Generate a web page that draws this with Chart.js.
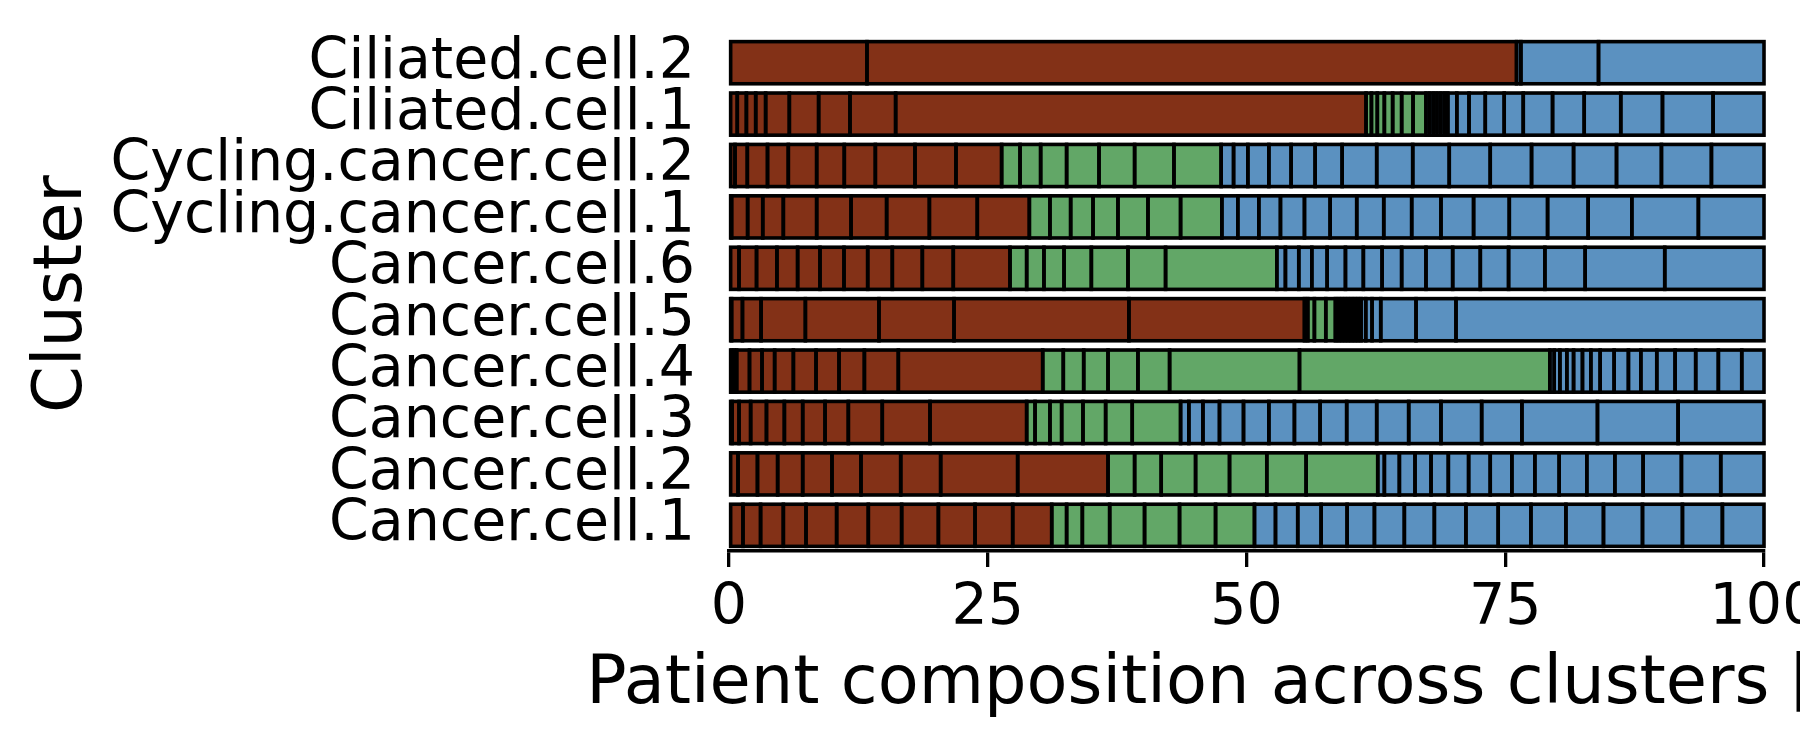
<!DOCTYPE html>
<html>
<head>
<meta charset="utf-8">
<script src="https://cdn.jsdelivr.net/npm/chart.js@4.4.1/dist/chart.umd.min.js"></script>
<style>
  html, body { margin: 0; padding: 0; background: #ffffff; }
  #wrap { width: 1800px; height: 750px; position: relative; }
</style>
</head>
<body>
<div id="wrap"><canvas id="c" width="1800" height="750"></canvas></div>
<script>
// ---- data ----
const clusters = [
  'Ciliated.cell.2', 'Ciliated.cell.1', 'Cycling.cancer.cell.2', 'Cycling.cancer.cell.1',
  'Cancer.cell.6', 'Cancer.cell.5', 'Cancer.cell.4', 'Cancer.cell.3', 'Cancer.cell.2', 'Cancer.cell.1'
];

// right edge (cumulative %) of each patient segment, per cluster, brown patient group
const brownEdges = [
  [13.33, 76.09],
  [0.80, 1.68, 2.58, 3.54, 5.83, 8.66, 11.69, 16.10, 61.55],
  [0.58, 1.77, 3.72, 5.73, 8.47, 11.14, 14.14, 17.97, 21.93, 26.34],
  [0.25, 1.80, 3.26, 5.25, 8.47, 11.79, 15.23, 19.36, 23.99, 29.02],
  [0.97, 2.66, 4.63, 6.63, 8.79, 11.11, 13.40, 15.78, 18.68, 21.67, 27.15],
  [0.25, 1.30, 3.10, 7.38, 14.49, 21.74, 38.64, 55.60],
  [0.25, 0.50, 0.74, 1.98, 3.19, 4.41, 6.22, 8.41, 10.63, 13.08, 16.36, 30.31],
  [0.30, 0.97, 2.09, 3.62, 5.35, 7.12, 9.28, 11.53, 14.81, 19.42, 28.76],
  [0.87, 2.75, 4.70, 7.12, 9.95, 12.75, 16.59, 20.45, 27.89, 36.62],
  [1.35, 3.05, 5.25, 7.44, 10.40, 13.46, 16.68, 20.23, 23.77, 27.41, 31.18]
];

// green patient group
const greenEdges = [
  [],
  [62.07, 62.64, 63.32, 64.12, 64.99, 66.09, 67.34],
  [28.12, 30.11, 32.62, 35.75, 39.19, 42.99, 47.55],
  [31.01, 33.01, 35.17, 37.58, 40.48, 43.63, 47.62],
  [28.76, 30.43, 32.37, 35.01, 38.55, 42.18, 52.93],
  [55.92, 56.56, 57.66, 58.59],
  [32.30, 34.27, 36.62, 39.51, 42.57, 55.12, 79.31],
  [29.57, 31.01, 32.14, 34.20, 36.39, 38.96, 43.63],
  [39.19, 41.76, 45.08, 48.36, 51.96, 55.76, 62.68],
  [32.62, 34.14, 36.78, 40.15, 43.53, 47.01, 50.77]
];

// blue patient group
const blueEdges = [
  [76.51, 84.01, 100],
  [67.70, 68.05, 68.40, 68.75, 69.10, 69.45, 70.32, 71.50, 73.07, 74.90, 76.74, 79.57, 82.63, 86.16, 90.19, 95.08, 100],
  [48.75, 50.13, 52.16, 54.31, 56.63, 59.24, 62.58, 66.06, 69.59, 73.55, 77.54, 81.60, 85.75, 90.09, 94.92, 100],
  [49.16, 51.19, 53.28, 55.60, 58.08, 60.65, 63.26, 65.96, 68.79, 71.94, 75.39, 79.09, 83.01, 87.23, 93.66, 100],
  [53.76, 55.05, 56.31, 57.79, 59.56, 61.29, 63.10, 64.99, 67.34, 69.92, 72.59, 75.32, 78.83, 82.72, 90.41, 100],
  [58.90, 59.21, 59.52, 59.83, 60.14, 60.45, 60.76, 61.07, 61.52, 62.13, 62.97, 66.38, 70.24, 100],
  [79.73, 80.28, 80.95, 81.60, 82.46, 83.27, 84.17, 85.52, 86.90, 88.10, 89.64, 91.41, 93.40, 95.59, 97.85, 100],
  [44.43, 45.79, 47.39, 49.71, 52.16, 54.63, 57.11, 59.68, 62.58, 65.67, 68.79, 72.72, 76.61, 83.91, 91.70, 100],
  [63.32, 64.77, 66.28, 67.83, 69.50, 71.46, 73.55, 75.64, 77.86, 80.21, 82.88, 85.59, 88.32, 92.02, 95.82, 100],
  [52.80, 54.95, 57.21, 59.72, 62.36, 65.25, 68.15, 71.20, 74.32, 77.48, 80.86, 84.49, 88.26, 92.12, 95.98, 100]
];

const xTicks = [0, 25, 50, 75, 100];
const xTitle = 'Patient composition across clusters [%]';
const yTitle = 'Cluster';

// ---- styles ----
const COLOR_BROWN = 'rgb(131,49,23)';
const COLOR_GREEN = 'rgb(98,167,103)';
const COLOR_BLUE = 'rgb(91,145,192)';
const FONT = 'DejaVu Sans';
const EDGE_W = 3.6;

function lastEdge(arr, fallback) { return arr.length ? arr[arr.length - 1] : fallback; }

function buildGroup(edges, starts, color, name) {
  const maxK = Math.max(...edges.map(e => e.length));
  const out = [];
  for (let k = 0; k < maxK; k++) {
    const data = edges.map((row, r) => {
      if (k >= row.length) return null;
      const s = k === 0 ? starts[r] : row[k - 1];
      return [s, row[k]];
    });
    out.push({
      label: name + ' ' + (k + 1),
      data: data,
      backgroundColor: color,
      borderWidth: 0,
      inflateAmount: 0,
      grouped: false,
      barPercentage: 0.82,
      categoryPercentage: 1.0
    });
  }
  return out;
}

const brownStarts = clusters.map(() => 0);
const greenStarts = brownEdges.map(e => lastEdge(e, 0));
const blueStarts = greenEdges.map((e, r) => lastEdge(e, greenStarts[r]));

const datasets = [].concat(
  buildGroup(brownEdges, brownStarts, COLOR_BROWN, 'Group A'),
  buildGroup(greenEdges, greenStarts, COLOR_GREEN, 'Group B'),
  buildGroup(blueEdges, blueStarts, COLOR_BLUE, 'Group C')
);

// black edges centred on every bar outline (as matplotlib draws edgecolor), using the bar elements' geometry
const barEdgePlugin = {
  id: 'barEdgePlugin',
  afterDatasetsDraw(chart) {
    const ctx = chart.ctx;
    ctx.save();
    ctx.strokeStyle = '#000000';
    ctx.lineWidth = EDGE_W;
    ctx.lineJoin = 'miter';
    chart.data.datasets.forEach((ds, i) => {
      const meta = chart.getDatasetMeta(i);
      meta.data.forEach((el, j) => {
        if (ds.data[j] == null) return;
        const p = el.getProps(['x', 'y', 'base', 'height'], true);
        const left = Math.min(p.x, p.base);
        const w = Math.abs(p.x - p.base);
        ctx.strokeRect(left, p.y - p.height / 2, w, p.height);
      });
    });
    ctx.restore();
  }
};

// x-axis title drawn unsqueezed (it runs past the right edge of the figure, as in the original)
const xTitlePlugin = {
  id: 'xTitlePlugin',
  afterDraw(chart) {
    const ctx = chart.ctx;
    const a = chart.chartArea;
    ctx.save();
    ctx.fillStyle = '#000000';
    ctx.font = '67px "' + FONT + '"';
    ctx.textAlign = 'center';
    ctx.textBaseline = 'alphabetic';
    ctx.fillText(xTitle, (a.left + a.right) / 2, 703);
    ctx.restore();
  }
};

new Chart(document.getElementById('c'), {
  type: 'bar',
  data: { labels: clusters, datasets: datasets },
  plugins: [barEdgePlugin, xTitlePlugin],
  options: {
    indexAxis: 'y',
    responsive: false,
    animation: false,
    devicePixelRatio: 1,
    layout: { padding: { top: 37, right: 36, bottom: 0, left: 0 } },
    plugins: { legend: { display: false }, tooltip: { enabled: false } },
    scales: {
      x: {
        type: 'linear',
        position: 'bottom',
        min: 0,
        max: 100,
        afterBuildTicks: s => { s.ticks = xTicks.map(v => ({ value: v })); },
        afterFit: s => { s.height = 199; s.paddingLeft = 0; s.paddingRight = 0; },
        ticks: {
          color: '#000000',
          font: { family: FONT, size: 57 },
          padding: 8,
          maxRotation: 0,
          autoSkip: false
        },
        grid: {
          display: true,
          drawOnChartArea: false,
          drawTicks: true,
          tickLength: 16,
          tickWidth: 3.3,
          tickColor: '#000000',
          color: '#000000',
          lineWidth: 3.3
        },
        border: { display: true, color: '#000000', width: 3.4 },
        title: { display: false }
      },
      y: {
        type: 'category',
        position: 'left',
        afterFit: s => { s.width = 729; s.paddingTop = 0; s.paddingBottom = 0; },
        ticks: {
          color: '#000000',
          font: { family: FONT, size: 57 },
          padding: 34,
          autoSkip: false
        },
        grid: { display: false, drawTicks: false },
        border: { display: false },
        title: {
          display: true,
          text: yTitle,
          color: '#000000',
          font: { family: FONT, size: 67 },
          padding: { top: 23, bottom: 0 }
        }
      }
    }
  }
});
</script>
</body>
</html>
